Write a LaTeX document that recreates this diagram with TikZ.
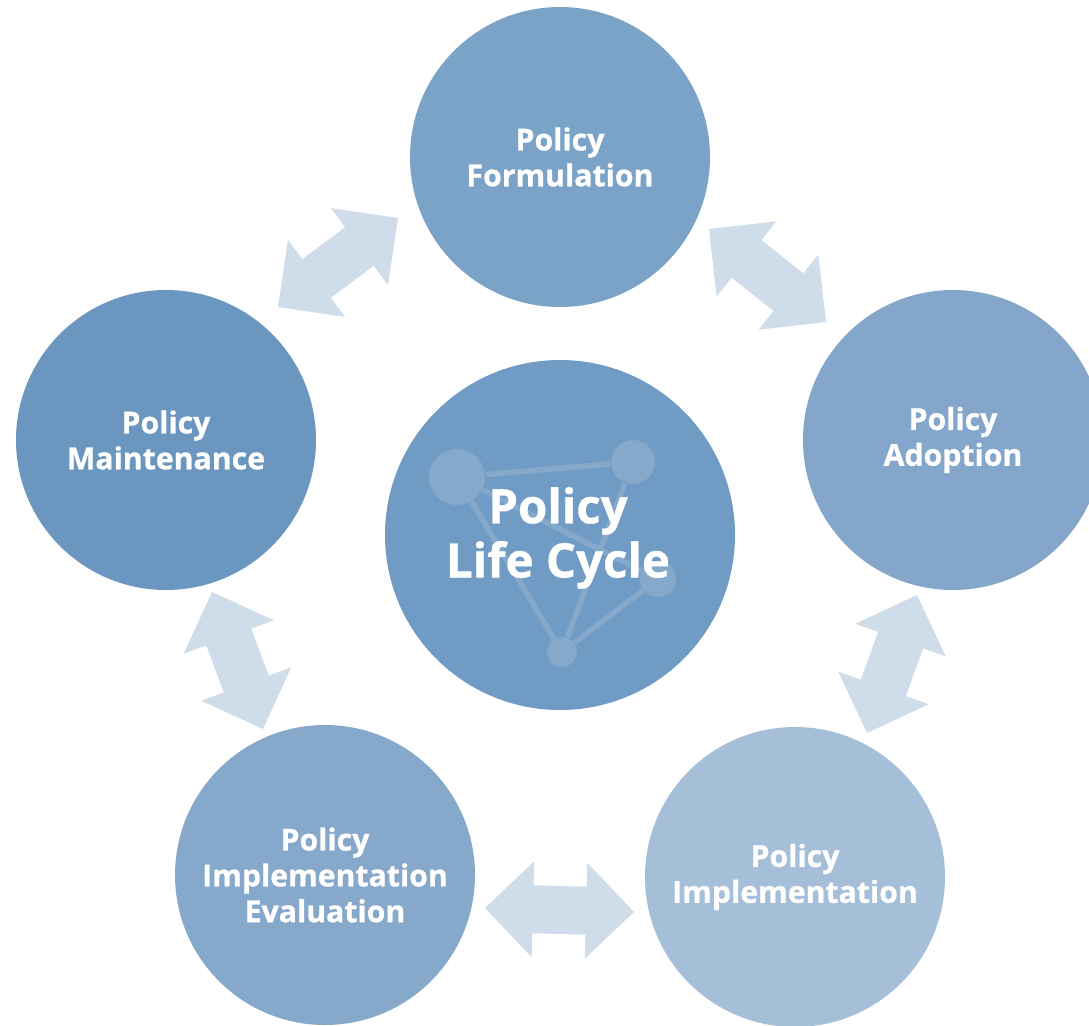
\documentclass[tikz,border=0pt]{standalone}
\usepackage{fontspec}
\setmainfont{Open Sans}[BoldFeatures={FakeBold=0.8}]
\usetikzlibrary{calc}
\definecolor{cForm}{HTML}{7BA2C7}
\definecolor{cAdopt}{HTML}{84A6CA}
\definecolor{cImpl}{HTML}{A6BFD9}
\definecolor{cEval}{HTML}{85A8CB}
\definecolor{cMaint}{HTML}{6A96BF}
\definecolor{cCore}{HTML}{6F9BC4}
\definecolor{cArrow}{HTML}{CFDCE9}
\definecolor{cNet}{HTML}{86A8CA}
\tikzset{
  stage/.style={circle, minimum size=30mm, inner sep=0pt, text=white,
    font=\bfseries\fontsize{8.6}{10.2}\selectfont, align=center},
  corecircle/.style={circle, minimum size=35mm, inner sep=0pt, fill=cCore},
  coretext/.style={text=white, font=\bfseries\fontsize{13.5}{15.4}\selectfont, align=center, inner sep=0pt},
  netdot/.style={circle, inner sep=0pt, fill=cNet},
  netline/.style={draw=cNet, line width=0.55mm},
  arrowfill/.style={fill=cArrow}
}
\newcommand\blkarrow[2]{%
  \coordinate (ha) at ($(#1)!4.8mm!(#2)$);
  \coordinate (hb) at ($(#2)!4.8mm!(#1)$);
  \fill[arrowfill] (#1) -- ($(ha)!4.8mm!90:(#2)$) -- ($(ha)!2.4mm!90:(#2)$)
    -- ($(hb)!2.4mm!-90:(#1)$) -- ($(hb)!4.8mm!-90:(#1)$) -- (#2)
    -- ($(hb)!4.8mm!90:(#1)$) -- ($(hb)!2.4mm!90:(#1)$)
    -- ($(ha)!2.4mm!-90:(#2)$) -- ($(ha)!4.8mm!-90:(#2)$) -- cycle;}
\begin{document}
\begin{tikzpicture}[x=0.1mm,y=-0.1mm]
\clip (0,0) rectangle (1089,1026);
\useasboundingbox (0,0) rectangle (1089,1026);
% stages
\node[stage, fill=cForm]  (form)  at (560,157) {Policy\\Formulation};
\node[stage, fill=cAdopt] (adopt) at (953,440) {Policy\\Adoption};
\node[stage, fill=cImpl]  (impl)  at (795,877) {Policy\\Implementation};
\node[stage, fill=cEval]  (eval)  at (325,875) {Policy\\Implementation\\Evaluation};
\node[stage, fill=cMaint] (maint) at (166,440) {Policy\\Maintenance};
% centre
\node[corecircle] (core) at (560,535) {};
\node[netdot, minimum size=5.6mm] (n1) at (457,477) {};
\node[netdot, minimum size=4.4mm] (n2) at (633,462) {};
\node[netdot, minimum size=3.6mm] (n3) at (658,579) {};
\node[netdot, minimum size=3.0mm] (n4) at (562,652) {};
\draw[netline] (n1) -- (n2);
\draw[netline] (n1) -- (n3);
\draw[netline] (n1) -- (n4);
\draw[netline] (n2) -- (n4);
\draw[netline] (n3) -- (n4);
\node[coretext] (coretitle) at (558,538) {Policy\\Life Cycle};
% arrows
\coordinate (a1s) at (278,307); \coordinate (a1e) at (398,218);
\coordinate (a2s) at (709,229); \coordinate (a2e) at (826,322);
\coordinate (a3s) at (917,595); \coordinate (a3e) at (867,733);
\coordinate (a4s) at (634,912); \coordinate (a4e) at (485,908);
\coordinate (a5s) at (263,729); \coordinate (a5e) at (212,592);
\blkarrow{a1s}{a1e}
\blkarrow{a2s}{a2e}
\blkarrow{a3s}{a3e}
\blkarrow{a4s}{a4e}
\blkarrow{a5s}{a5e}
\end{tikzpicture}
\end{document}
